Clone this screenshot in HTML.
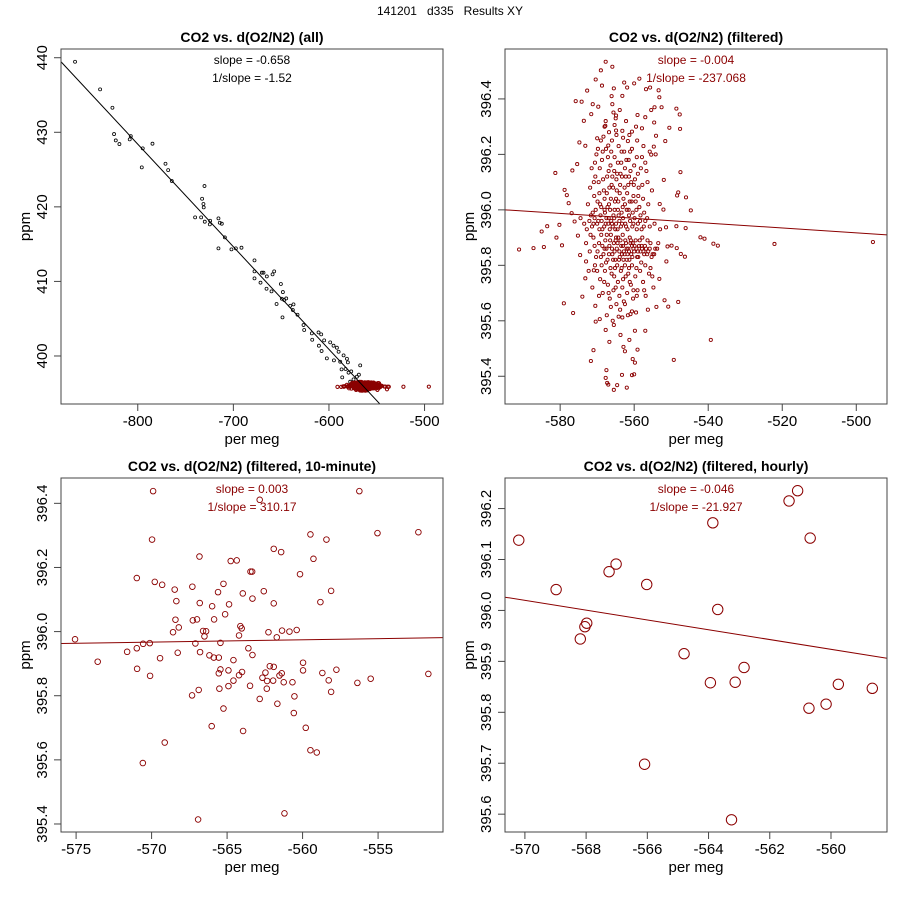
<!DOCTYPE html>
<html><head><meta charset="utf-8"><style>
body{margin:0;background:#fff;}
svg{display:block;font-family:"Liberation Sans",sans-serif;}
</style></head><body>
<svg id="chart" width="900" height="900" viewBox="0 0 900 900">
<rect width="900" height="900" fill="#fff"/>
<text x="450" y="15" text-anchor="middle" font-size="12" fill="#000" style="white-space:pre">141201   d335   Results XY</text>
</svg>
<script>
// ---- Panel 1 (all) black points ----
const allX = [-865.6,-839.4,-826.5,-824.8,-823.0,-819.2,-808.4,-807.3,-794.8,-795.8,-784.6,-771.0,-768.2,-764.4,-730.2,-732.7,-731.3,-731.0,-740.0,-733.7,-729.9,-724.3,-724.6,-715.6,-714.2,-712.1,-715.6,-708.9,-702.0,-697.4,-691.5,-677.9,-677.9,-677.9,-671.6,-670.2,-668.5,-665.0,-665.3,-660.1,-659.0,-657.3,-654.8,-650.3,-648.2,-649.3,-646.8,-644.7,-648.6,-640.5,-637.1,-637.8,-632.9,-626.6,-625.9,-617.9,-617.5,-610.9,-608.1,-610.5,-605.0,-607.7,-598.7,-602.2,-595.2,-591.7,-594.8,-589.9,-584.7,-588.2,-581.2,-580.2,-582.6,-586.8,-576.7,-579.5,-586.1,-567.3,-570.8,-574.3,-568.7,-577.8];
const allY = [439.46,435.75,433.29,429.76,428.91,428.42,429.05,429.49,427.84,425.29,428.47,425.78,424.93,423.46,422.79,421.09,420.38,419.93,418.59,418.59,418.01,418.14,417.65,418.45,417.87,417.74,414.43,415.91,414.30,414.43,414.52,412.82,411.35,410.41,409.83,411.17,411.17,410.67,409.02,408.66,410.94,411.35,406.97,409.65,408.57,407.68,407.50,407.72,405.18,406.74,406.92,406.16,405.53,404.15,403.48,403.03,402.18,403.16,402.90,401.38,402.09,400.66,401.82,399.68,401.38,401.11,399.41,400.57,400.08,399.23,399.63,399.14,398.25,398.20,397.93,397.76,397.13,398.74,397.22,396.86,397.49,396.55];
const allLineX = [-880.3,-547.0];
const allLineY = [439.46,393.6];

// ---- Filtered points (panel 2, and red in panel 1) ----
const filtPairs = "-591.1,395.857;-587.2,395.862;-584.4,395.866;-585.0,395.922;-583.5,395.941;-581.3,396.133;-581.0,395.900;-580.2,395.946;-579.5,395.872;-579.0,395.663;-576.5,395.628;-574.0,395.687;-575.8,396.392;-574.2,396.390;-573.6,396.321;-571.6,396.345;-572.7,396.430;-570.4,396.470;-569.0,396.503;-567.7,396.534;-565.9,396.516;-568.7,396.448;-571.2,396.381;-569.7,396.372;-567.7,396.320;-573.2,396.231;-574.8,396.243;-575.4,396.165;-576.7,396.142;-578.8,396.072;-578.2,396.053;-577.7,396.024;-576.9,395.988;-576.1,395.958;-575.2,395.907;-574.6,395.837;-573.0,395.814;-573.2,395.753;-570.9,395.782;-570.5,395.654;-570.4,395.597;-569.3,395.606;-571.0,395.494;-571.7,395.455;-567.5,395.422;-567.7,395.394;-567.3,395.376;-567.0,395.370;-565.5,395.351;-564.6,395.368;-563.3,395.405;-562.0,395.359;-560.6,395.404;-560.0,395.407;-560.4,395.462;-559.8,395.449;-559.1,395.496;-562.9,395.506;-562.5,395.490;-561.3,395.531;-563.7,395.549;-566.7,395.524;-567.7,395.567;-565.5,395.585;-564.2,395.615;-563.2,395.612;-561.0,395.624;-560.6,395.634;-559.8,395.564;-557.0,395.564;-556.3,395.640;-554.0,395.650;-551.8,395.674;-550.8,395.651;-548.1,395.668;-549.3,395.459;-539.3,395.531;-522.1,395.877;-495.5,395.884;-542.1,395.901;-541.0,395.896;-538.6,395.878;-537.4,395.871;-546.1,395.934;-544.7,395.998;-546.0,396.045;-548.1,396.063;-548.4,396.052;-547.5,396.136;-547.6,396.292;-547.7,396.344;-548.6,396.365;-550.5,396.296;-551.6,396.248;-552.0,396.108;-552.1,396.001;-553.1,396.021;-551.4,395.937;-551.0,395.868;-549.9,395.871;-548.6,395.941;-548.5,395.862;-547.4,395.841;-546.3,395.831;-551.3,395.814;-553.2,395.751;-555.1,395.760;-554.1,396.267;-554.2,396.200;-555.4,396.199;-554.7,396.228;-552.6,396.370;-553.2,396.406;-553.4,396.431;-555.7,396.441;-556.8,396.435;-558.6,396.473;-560.0,396.456;-561.9,396.441;-562.7,396.459;-563.2,396.411;-565.5,396.438;-566.1,396.410;-565.9,396.381;-563.9,396.360;-565.6,396.351;-564.9,396.340;-559.1,396.342;-557.0,396.334;-555.4,396.360;-554.5,396.370;-554.6,396.315;-557.9,396.294;-559.5,396.300;-565.3,396.306;-567.8,396.303;-568.3,396.264;-570.0,396.258;-567.0,396.232;-564.9,396.286;-563.2,396.285;-560.6,396.282;-561.7,396.248;"
+"-571.5,396.15;-570.8,396.05;-570.2,396.20;-569.6,396.10;-569.1,395.98;-568.7,396.18;-568.2,396.07;-567.6,396.22;-567.3,396.12;-566.8,396.02;-566.4,396.16;-566.0,396.25;-565.7,396.08;-565.3,396.19;-564.9,396.04;-564.6,396.13;-564.2,396.23;-563.8,396.09;-563.5,396.17;-563.1,396.01;-562.7,396.21;-562.3,396.12;-561.9,396.06;-561.5,396.18;-561.0,396.14;-560.6,396.22;-560.2,396.05;-559.8,396.11;-559.3,396.19;-558.8,396.08;-558.2,396.15;-557.6,396.04;-557.0,396.17;-556.4,396.10;-555.8,396.21;-555.2,396.07;"
+"-572.5,396.02;-571.9,396.08;-571.2,395.99;-570.5,396.12;-569.9,396.03;-569.3,396.15;-568.9,396.01;-568.4,396.11;-567.9,395.99;-567.4,396.06;-566.9,396.14;-566.5,396.00;-566.1,396.09;-565.6,395.98;-565.2,396.03;-564.8,396.11;-564.4,396.00;-563.9,396.06;-563.3,396.12;-562.9,396.04;-562.5,396.15;-562.0,396.00;-561.6,396.09;-561.2,396.03;-560.8,396.10;-560.4,395.99;-559.6,396.03;-558.6,396.01;-557.3,395.99;-556.2,396.02;"
+"-574.5,395.97;-573.5,395.95;-572.8,395.93;-572.1,395.96;-571.4,395.94;-570.7,395.97;-570.0,395.95;-569.4,395.93;-568.8,395.96;-568.1,395.94;-567.5,395.97;-567.0,395.95;-566.6,395.93;-566.2,395.96;-565.8,395.94;-565.4,395.97;-564.9,395.95;-564.5,395.93;-564.0,395.96;-563.6,395.94;-563.0,395.97;-562.4,395.95;-561.8,395.93;-561.1,395.96;-560.5,395.94;-559.9,395.97;-559.0,395.95;-558.0,395.93;-557.0,395.96;-555.8,395.94;-554.5,395.95;-553.0,395.93;"
+"-573.0,395.88;-572.0,395.85;-571.0,395.90;-570.3,395.83;-569.5,395.88;-568.9,395.91;-568.3,395.84;-567.8,395.89;-567.2,395.82;-566.7,395.87;-566.3,395.91;-565.9,395.84;-565.5,395.88;-565.1,395.82;-564.7,395.86;-564.3,395.90;-563.9,395.83;-563.5,395.87;-563.1,395.91;-562.8,395.85;-562.4,395.89;-562.0,395.82;-561.6,395.86;-561.2,395.90;-560.8,395.84;-560.4,395.88;-560.0,395.85;-559.6,395.89;-559.2,395.83;-558.7,395.87;-558.3,395.85;-557.8,395.90;-557.3,395.84;-556.8,395.86;-556.2,395.85;-555.6,395.88;-555.0,395.84;-554.3,395.86;-553.5,395.88;"
+"-566.0,395.86;-565.0,395.89;-564.0,395.85;-563.0,395.87;-562.0,395.86;-561.0,395.88;-560.2,395.86;-559.0,395.85;-558.0,395.87;-557.5,395.85;-556.5,395.84;-564.5,395.88;-562.6,395.84;-561.4,395.85;-560.6,395.87;-566.8,395.84;-567.5,395.86;-568.6,395.87;"
+"-572.3,395.78;-571.3,395.72;-570.6,395.80;-569.2,395.75;-568.5,395.70;-567.9,395.78;-567.1,395.73;-566.6,395.68;-566.1,395.77;-565.6,395.71;-565.2,395.79;-564.8,395.66;-564.4,395.74;-564.0,395.69;-563.6,395.78;-563.2,395.72;-562.8,395.67;-562.3,395.76;-561.9,395.70;-561.4,395.79;-560.9,395.73;-560.3,395.68;-559.7,395.76;-559.1,395.71;-558.4,395.78;-557.6,395.74;-556.9,395.69;-556.0,395.77;-554.8,395.72;-567.4,395.62;-565.8,395.60;-563.8,395.64;-561.7,395.62;-559.5,395.63;"
+"-569.0,396.25;-566.8,396.28;-564.8,396.27;-563.0,396.26;-561.3,396.27;-559.2,396.25;-557.5,396.23;-568.0,396.30;-565.0,396.33;-562.2,396.32;"
+"-570.6,396.17;-569.8,396.22;-568.5,396.21;-567.1,396.19;-566.2,396.21;-565.4,396.14;-564.4,396.17;-563.4,396.21;-562.1,396.18;-561.1,396.21;-560.0,396.16;-559.0,396.13;-557.9,396.19;-556.7,396.14;-570.9,396.10;-569.4,396.06;-568.0,396.04;-566.7,396.08;-565.9,396.12;-564.7,396.07;-563.7,396.13;-562.6,396.08;-561.4,396.12;-560.1,396.09;-558.9,396.05;-557.8,396.09;"
+"-571.7,395.98;-570.4,396.00;-569.2,396.02;-568.0,396.00;-567.2,396.01;-566.3,396.04;-565.3,396.00;-564.3,396.03;-563.4,395.99;-562.5,396.02;-561.5,396.00;-560.7,396.03;-559.4,396.00;-558.3,395.98;-571.0,395.95;-569.7,395.96;-568.6,395.93;-567.7,395.95;-566.9,395.97;-566.0,395.95;-565.1,395.93;-564.2,395.98;-563.3,395.95;-562.2,395.94;-561.4,395.98;-560.2,395.95;-559.3,395.93;-558.4,395.96;-557.4,395.94;-556.5,395.97;"
+"-571.8,395.91;-570.7,395.87;-569.9,395.85;-569.0,395.83;-568.0,395.86;-567.4,395.91;-566.5,395.89;-565.7,395.82;-565.3,395.85;-564.9,395.90;-564.1,395.82;-563.7,395.89;-563.3,395.84;-562.9,395.82;-562.2,395.88;-561.8,395.84;-561.3,395.82;-560.9,395.89;-560.5,395.83;-559.9,395.87;-559.4,395.86;-558.9,395.83;-558.5,395.89;-557.9,395.86;-557.1,395.87;-556.4,395.89;-555.8,395.86;-555.3,395.83;-554.6,395.84;-553.8,395.86;"
+"-570.0,395.78;-568.8,395.80;-567.6,395.81;-566.4,395.79;-565.4,395.76;-564.6,395.80;-563.4,395.79;-562.5,395.80;-561.6,395.77;-560.6,395.80;-559.4,395.79;-558.1,395.81;-557.0,395.80;-555.6,395.79;-568.1,395.74;-566.9,395.70;-565.0,395.72;-563.0,395.75;-561.2,395.74;-559.3,395.69;-557.3,395.71;-569.5,395.69;-566.3,395.65;-562.5,395.66;-560.2,395.71";
const filtX = filtPairs.split(";").map(s => +s.split(",")[0]);
const filtY = filtPairs.split(";").map(s => +s.split(",")[1]);
const filtLineX = [-594.9,-491.7];
const filtLineY = [396.0,395.91];

// ---- 10-minute ----
const tenX = [-575.07,-573.57,-571.62,-570.98,-570.96,-570.56,-570.12,-570.10,-570.98,-569.97,-569.90,-569.79,-569.30,-569.44,-569.13,-570.58,-568.58,-568.47,-568.36,-568.42,-568.20,-568.27,-567.30,-567.27,-566.99,-567.32,-566.88,-566.92,-566.83,-566.81,-567.10,-566.79,-566.59,-566.39,-566.50,-566.17,-565.99,-565.86,-565.88,-565.55,-565.60,-565.24,-565.13,-564.87,-565.44,-565.55,-565.44,-565.51,-565.24,-566.02,-564.91,-564.91,-564.76,-564.36,-564.58,-564.58,-564.21,-564.01,-563.94,-564.21,-564.12,-564.03,-563.96,-563.59,-563.32,-563.48,-563.32,-563.45,-563.34,-562.84,-562.57,-562.84,-562.66,-562.46,-562.35,-562.37,-562.17,-561.91,-561.95,-562.26,-561.91,-561.91,-561.71,-561.67,-561.53,-561.36,-561.38,-561.25,-561.42,-560.87,-560.39,-560.67,-560.54,-560.58,-561.20,-560.17,-559.97,-559.97,-559.79,-559.48,-559.28,-559.48,-559.06,-558.82,-558.69,-558.42,-558.27,-558.11,-558.11,-557.76,-556.37,-556.24,-555.49,-555.04,-552.33,-551.67];
const tenY = [395.976,395.906,395.937,395.948,395.884,395.962,395.964,395.862,396.167,396.287,396.438,396.155,396.146,395.917,395.654,395.590,395.998,396.131,396.095,396.037,396.013,395.934,396.140,396.035,396.038,395.801,395.818,395.414,396.234,396.089,395.963,395.936,396.002,396.001,395.985,395.926,396.079,396.038,395.919,395.919,396.123,396.149,396.054,396.085,395.965,395.870,395.882,395.822,395.760,395.705,395.879,395.830,396.220,396.222,395.911,395.847,395.864,395.874,395.690,395.988,396.017,396.010,396.119,395.948,395.927,395.831,396.103,396.187,396.187,396.411,396.126,395.790,395.856,395.872,395.846,395.822,395.892,395.890,395.847,395.998,396.088,396.258,395.982,395.775,395.863,396.003,395.870,395.842,396.248,396.000,396.005,395.842,395.798,395.746,395.433,396.179,395.879,395.903,395.700,396.303,396.227,395.630,395.623,396.092,395.871,396.287,395.848,396.127,395.812,395.881,395.840,396.438,395.853,396.307,396.310,395.868];
const tenLineX = [-576.0,-550.7];
const tenLineY = [395.963,395.981];

// ---- hourly ----
const hrX = [-570.2,-568.98,-568.19,-568.04,-567.98,-567.25,-567.02,-566.02,-566.09,-564.80,-563.94,-563.86,-563.70,-563.13,-562.84,-563.25,-561.37,-561.09,-560.68,-560.72,-560.16,-559.76,-558.65];
const hrY = [396.138,396.041,395.944,395.968,395.975,396.076,396.091,396.051,395.698,395.915,395.858,396.172,396.002,395.859,395.888,395.589,396.215,396.235,396.142,395.808,395.816,395.855,395.847];
const hrLineX = [-570.65,-558.17];
const hrLineY = [396.026,395.906];

// tick values
const p1XTicks = [-800,-700,-600,-500];
const p1YTicks = [400,410,420,430,440];
const p2XTicks = [-580,-560,-540,-520,-500];
const p2YTicks = [395.4,395.6,395.8,396.0,396.2,396.4];
const p3XTicks = [-575,-570,-565,-560,-555];
const p3YTicks = [395.4,395.6,395.8,396.0,396.2,396.4];
const p4XTicks = [-570,-568,-566,-564,-562,-560];
const p4YTicks = [395.6,395.7,395.8,395.9,396.0,396.1,396.2];

const NS = "http://www.w3.org/2000/svg";
const svg = document.getElementById("chart");
const RED = "#8b0000";
function mk(tag, attrs, parent) {
  const e = document.createElementNS(NS, tag);
  for (const k in attrs) e.setAttribute(k, attrs[k]);
  (parent || svg).appendChild(e);
  return e;
}
function panel(p) {
  const g = mk("g", {});
  
  
  const sx = v => p.x0 + (v - p.xd[0]) / (p.xd[1] - p.xd[0]) * (p.x1 - p.x0);
  const sy = v => p.y1 - (v - p.yd[0]) / (p.yd[1] - p.yd[0]) * (p.y1 - p.y0);
  const cx = (p.x0 + p.x1) / 2;
  const t = mk("text", {x: cx, y: p.y0 - 7, "text-anchor": "middle", "font-size": 14, "font-weight": "bold"}, g);
  t.textContent = p.title;
  
  
  const cid = "c" + p.name;
  const cp = mk("clipPath", {id: cid}, g);
  mk("rect", {x: p.x0, y: p.y0, width: p.x1 - p.x0, height: p.y1 - p.y0}, cp);
  const pts = mk("g", {"clip-path": "url(#" + cid + ")"}, g);
  
  
  p.series.forEach(s => {
    for (let i = 0; i < s.x.length; i++) {
      const c = mk("circle", {cx: sx(s.x[i]).toFixed(2), cy: sy(s.y[i]).toFixed(2), r: s.r, fill: "none", stroke: s.color, "stroke-width": s.sw}, pts);
      
      
    }
  });
  const ln = mk("line", {x1: sx(p.lx[0]), y1: sy(p.ly[0]), x2: sx(p.lx[1]), y2: sy(p.ly[1]), stroke: p.lc, "stroke-width": 1}, pts);
  
  
  const box = mk("rect", {x: p.x0, y: p.y0, width: p.x1 - p.x0, height: p.y1 - p.y0, fill: "none", stroke: "#444", "stroke-width": 1}, g);
  
  
  p.xt.forEach(v => {
    const X = sx(v);
    mk("line", {x1: X, y1: p.y1, x2: X, y2: p.y1 + 7, stroke: "#444"}, g);
    const tx = mk("text", {x: X, y: p.y1 + 22, "text-anchor": "middle", "font-size": 15}, g);
    tx.textContent = String(v);
    
    
  });
  mk("line", {x1: sx(p.xt[0]), y1: p.y1, x2: sx(p.xt[p.xt.length - 1]), y2: p.y1, stroke: "#444"}, g);
  p.yt.forEach(v => {
    const Y = sy(v);
    mk("line", {x1: p.x0 - 7, y1: Y, x2: p.x0, y2: Y, stroke: "#444"}, g);
    const X = p.x0 - 14;
    const ty = mk("text", {x: X, y: Y, "text-anchor": "middle", "font-size": 15, transform: "rotate(-90 " + X + " " + Y + ")"}, g);
    ty.textContent = p.yfmt(v);
    
    
  });
  const xl = mk("text", {x: cx, y: p.y1 + 40, "text-anchor": "middle", "font-size": 15}, g);
  xl.textContent = "per meg";
  
  
  const yx = p.x0 - 31, yy = (p.y0 + p.y1) / 2;
  const yl = mk("text", {x: yx, y: yy, "text-anchor": "middle", "font-size": 15, transform: "rotate(-90 " + yx + " " + yy + ")"}, g);
  yl.textContent = "ppm";
  
  
  p.notes.forEach((n, i) => {
    const nt = mk("text", {x: cx, y: p.y0 + 15 + i * 18, "text-anchor": "middle", "font-size": 12, fill: p.nc}, g);
    nt.textContent = n;
    
    
  });
}
panel({name: "panel-all", title: "CO2 vs. d(O2/N2) (all)", x0: 61, x1: 443, y0: 49, y1: 404,
  xd: [-880.3, -480.7], yd: [393.56, 441.17], xt: p1XTicks, yt: p1YTicks, yfmt: v => String(v),
  series: [{x: allX, y: allY, r: 1.5, color: "#000", sw: 0.8}, {x: filtX, y: filtY, r: 1.6, color: RED, sw: 1}],
  lx: allLineX, ly: allLineY, lc: "#000", notes: ["slope = -0.658", "1/slope = -1.52"], nc: "#000"});
panel({name: "panel-filtered", title: "CO2 vs. d(O2/N2) (filtered)", x0: 505, x1: 887, y0: 49, y1: 404,
  xd: [-594.9, -491.7], yd: [395.30, 396.58], xt: p2XTicks, yt: p2YTicks, yfmt: v => v.toFixed(1),
  series: [{x: filtX, y: filtY, r: 1.6, color: RED, sw: 0.9}],
  lx: filtLineX, ly: filtLineY, lc: RED, notes: ["slope = -0.004", "1/slope = -237.068"], nc: RED});
panel({name: "panel-10-minute", title: "CO2 vs. d(O2/N2) (filtered, 10-minute)", x0: 61, x1: 443, y0: 478, y1: 832,
  xd: [-576.0, -550.7], yd: [395.375, 396.479], xt: p3XTicks, yt: p3YTicks, yfmt: v => v.toFixed(1),
  series: [{x: tenX, y: tenY, r: 2.8, color: RED, sw: 0.9}],
  lx: tenLineX, ly: tenLineY, lc: RED, notes: ["slope = 0.003", "1/slope = 310.17"], nc: RED});
panel({name: "panel-hourly", title: "CO2 vs. d(O2/N2) (filtered, hourly)", x0: 505, x1: 887, y0: 478, y1: 832,
  xd: [-570.65, -558.17], yd: [395.565, 396.26], xt: p4XTicks, yt: p4YTicks, yfmt: v => v.toFixed(1),
  series: [{x: hrX, y: hrY, r: 5.2, color: RED, sw: 1}],
  lx: hrLineX, ly: hrLineY, lc: RED, notes: ["slope = -0.046", "1/slope = -21.927"], nc: RED});
</script>
</body></html>
